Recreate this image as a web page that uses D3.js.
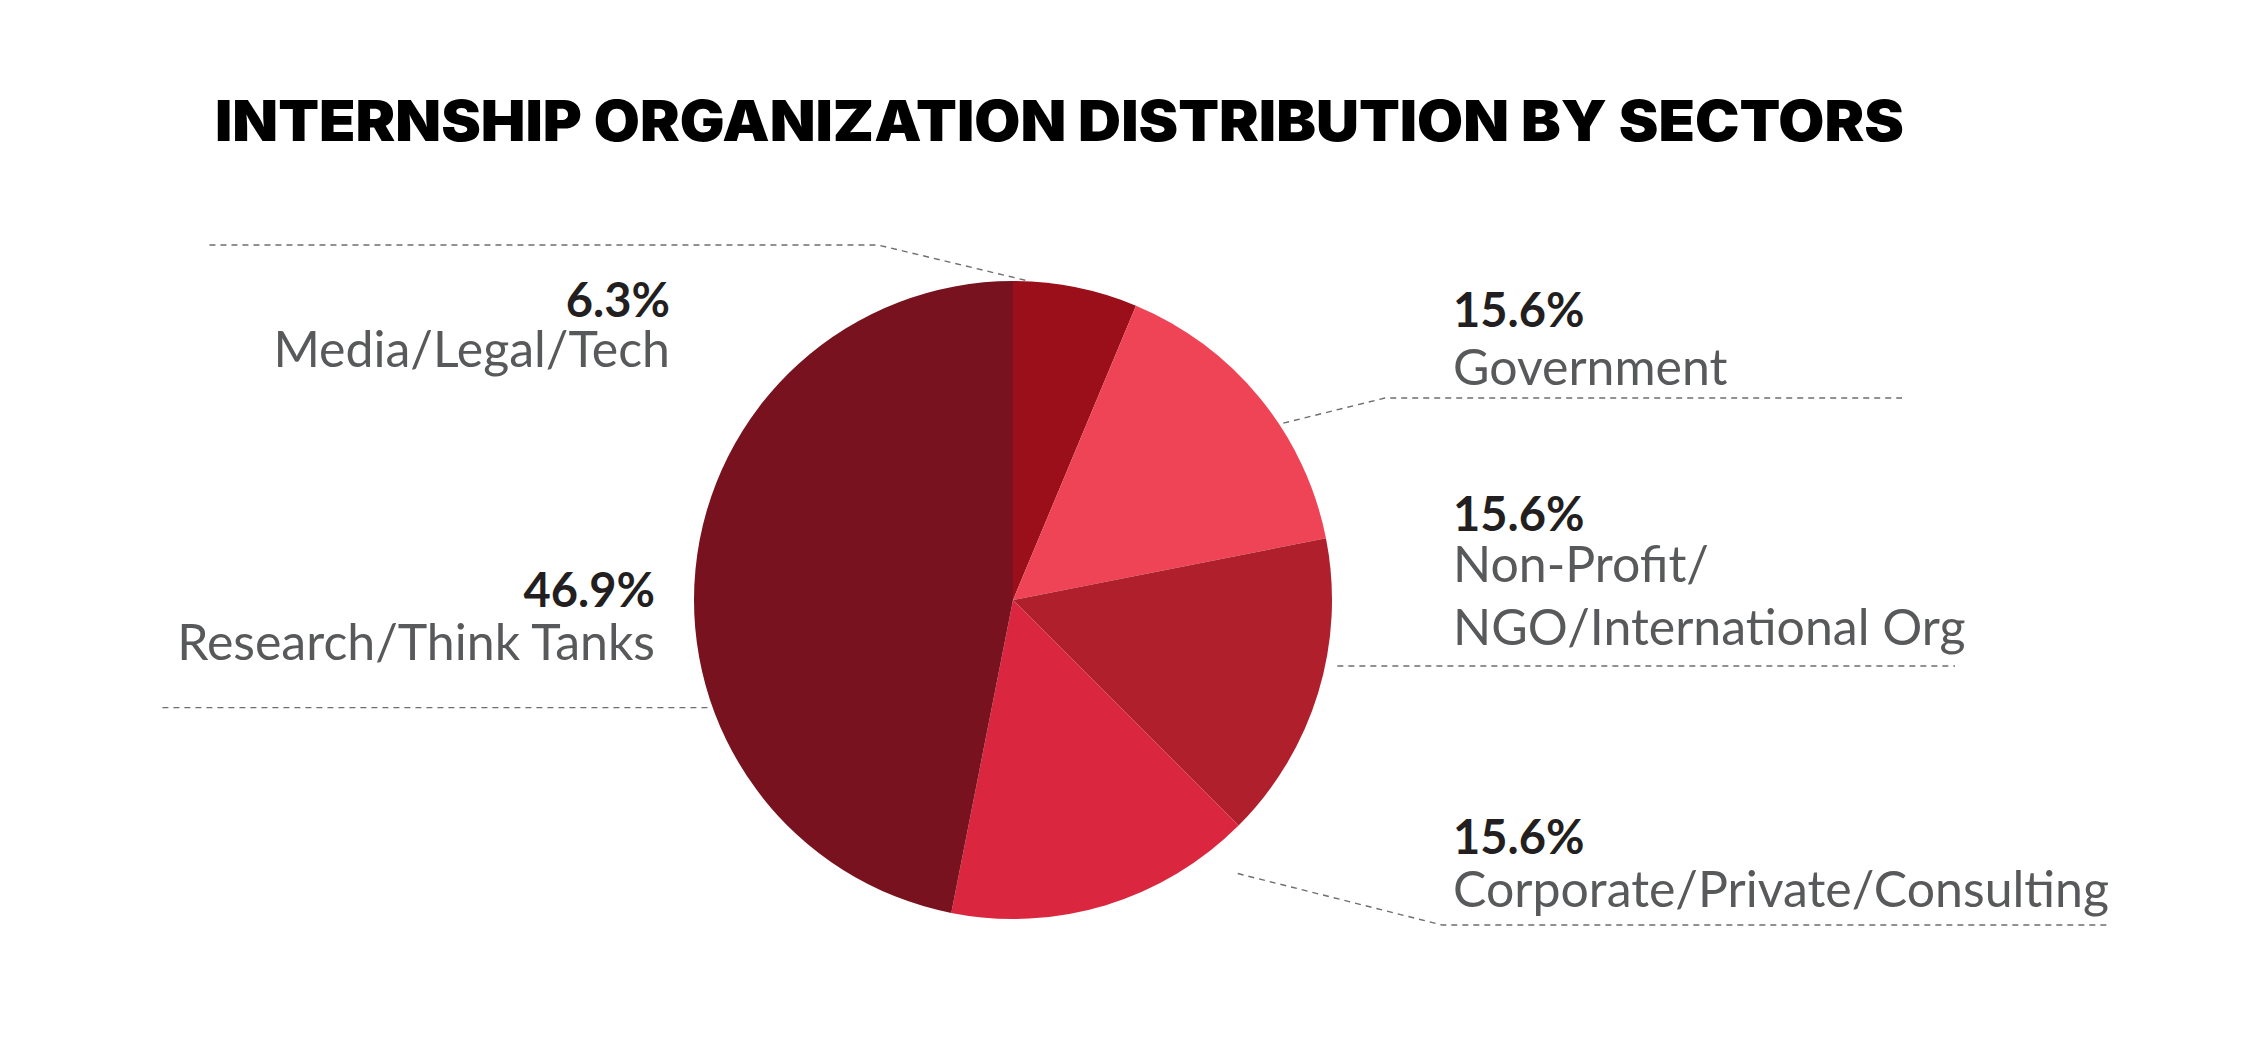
<!DOCTYPE html>
<html>
<head>
<meta charset="utf-8">
<script src="https://cdn.jsdelivr.net/npm/d3@7"></script>
<style>
  html, body { margin: 0; padding: 0; background: #fff; }
  svg { display: block; }
</style>
</head>
<body>
<div id="chartContainer"></div>
<script>
// data
const sectors = ["Media/Legal/Tech", "Government", "Non-Profit/NGO/International Org", "Corporate/Private/Consulting", "Research/Think Tanks"];
const shares = [6.3, 15.6, 15.6, 15.6, 46.9];
const shareLabels = ["6.3%", "15.6%", "15.6%", "15.6%", "46.9%"];
const labelLines = [["Media/Legal/Tech"], ["Government"], ["Non-Profit/", "NGO/International Org"], ["Corporate/Private/Consulting"], ["Research/Think Tanks"]];
const sliceColors = ["#9b0f1a", "#ef4455", "#b01f2c", "#da263e", "#78121e"];

// label / leader layout (annotation placement only)
const labelLayout = [
  { leadAngle: 2.2, leadR: 320, elbow: [878, 245], end: 209, anchor: "end", x: 670, pctY: 317, lineY: [367] },
  { leadAngle: 56.8, leadR: 323, elbow: [1385, 398], end: 1902, anchor: "start", x: 1453, pctY: 327, lineY: [385] },
  { leadAngle: 101.5, leadR: 331, elbow: null, end: 1955, anchor: "start", x: 1453, pctY: 531, lineY: [582, 645] },
  { leadAngle: 140.6, leadR: 354, elbow: [1442, 925], end: 2111, anchor: "start", x: 1453, pctY: 854, lineY: [907] },
  { leadAngle: 250.6, leadR: 324, elbow: null, end: 160, anchor: "end", x: 655, pctY: 607, lineY: [660] }
];

document.addEventListener('DOMContentLoaded', () => {
  const width = 2251, height = 1043;
  const cx = 1013, cy = 600, radius = 319;

  const svg = d3.select("#chartContainer")
    .append("svg")
    .attr("width", width)
    .attr("height", height);

  svg.append("text")
    .attr("x", 215)
    .attr("y", 141)
    .attr("textLength", 1689)
    .attr("lengthAdjust", "spacingAndGlyphs")
    .style("font-family", "Inter, Lato, 'DejaVu Sans', sans-serif")
    .style("font-weight", 900)
    .style("font-size", "56px")
    .style("fill", "#000")
    .text("INTERNSHIP ORGANIZATION DISTRIBUTION BY SECTORS");

  const data = sectors.map((s, i) => ({ sector: s, value: shares[i], label: shareLabels[i], lines: labelLines[i], color: sliceColors[i], layout: labelLayout[i] }));

  const pie = d3.pie().value(d => d.value).sort(null);
  const arc = d3.arc().innerRadius(0).outerRadius(radius);
  const arcs = pie(data);

  const g = svg.append("g").attr("transform", `translate(${cx},${cy})`);

  g.selectAll("path.slice")
    .data(arcs)
    .enter()
    .append("path")
    .attr("class", "slice")
    .attr("d", arc)
    .attr("fill", d => d.data.color);

  // leader lines
  const leadPoint = (deg, r) => {
    const a = deg * Math.PI / 180;
    const p = d3.arc().innerRadius(r).outerRadius(r).centroid({ startAngle: a, endAngle: a });
    return [p[0] + cx, p[1] + cy];
  };

  svg.selectAll("polyline.leader")
    .data(arcs)
    .enter()
    .append("polyline")
    .attr("class", "leader")
    .attr("fill", "none")
    .attr("stroke", "#6d6e71")
    .attr("stroke-width", 1.4)
    .attr("stroke-dasharray", "6,5")
    .attr("points", d => {
      const L = d.data.layout;
      const start = leadPoint(L.leadAngle, L.leadR);
      const pts = [start];
      if (L.elbow) pts.push(L.elbow);
      const lastY = L.elbow ? L.elbow[1] : start[1];
      pts.push([L.end, lastY]);
      return pts.map(p => p.join(",")).join(" ");
    });

  // labels
  const labels = svg.selectAll("g.label")
    .data(arcs)
    .enter()
    .append("g")
    .attr("class", "label");

  labels.append("text")
    .attr("x", d => d.data.layout.x)
    .attr("y", d => d.data.layout.pctY)
    .attr("text-anchor", d => d.data.layout.anchor)
    .style("font-family", "Lato, 'Open Sans', sans-serif")
    .style("font-weight", 700)
    .style("font-size", "47px")
    .style("fill", "#231f20")
    .text(d => d.data.label);

  labels.each(function (d) {
    const sel = d3.select(this);
    d.data.lines.forEach((line, i) => {
      sel.append("text")
        .attr("x", d.data.layout.x)
        .attr("y", d.data.layout.lineY[i])
        .attr("text-anchor", d.data.layout.anchor)
        .style("font-family", "Lato, 'Open Sans', sans-serif")
        .style("font-weight", 400)
        .style("font-size", "50px")
        .style("fill", "#58595b")
        .text(line);
    });
  });
});
</script>
</body>
</html>
